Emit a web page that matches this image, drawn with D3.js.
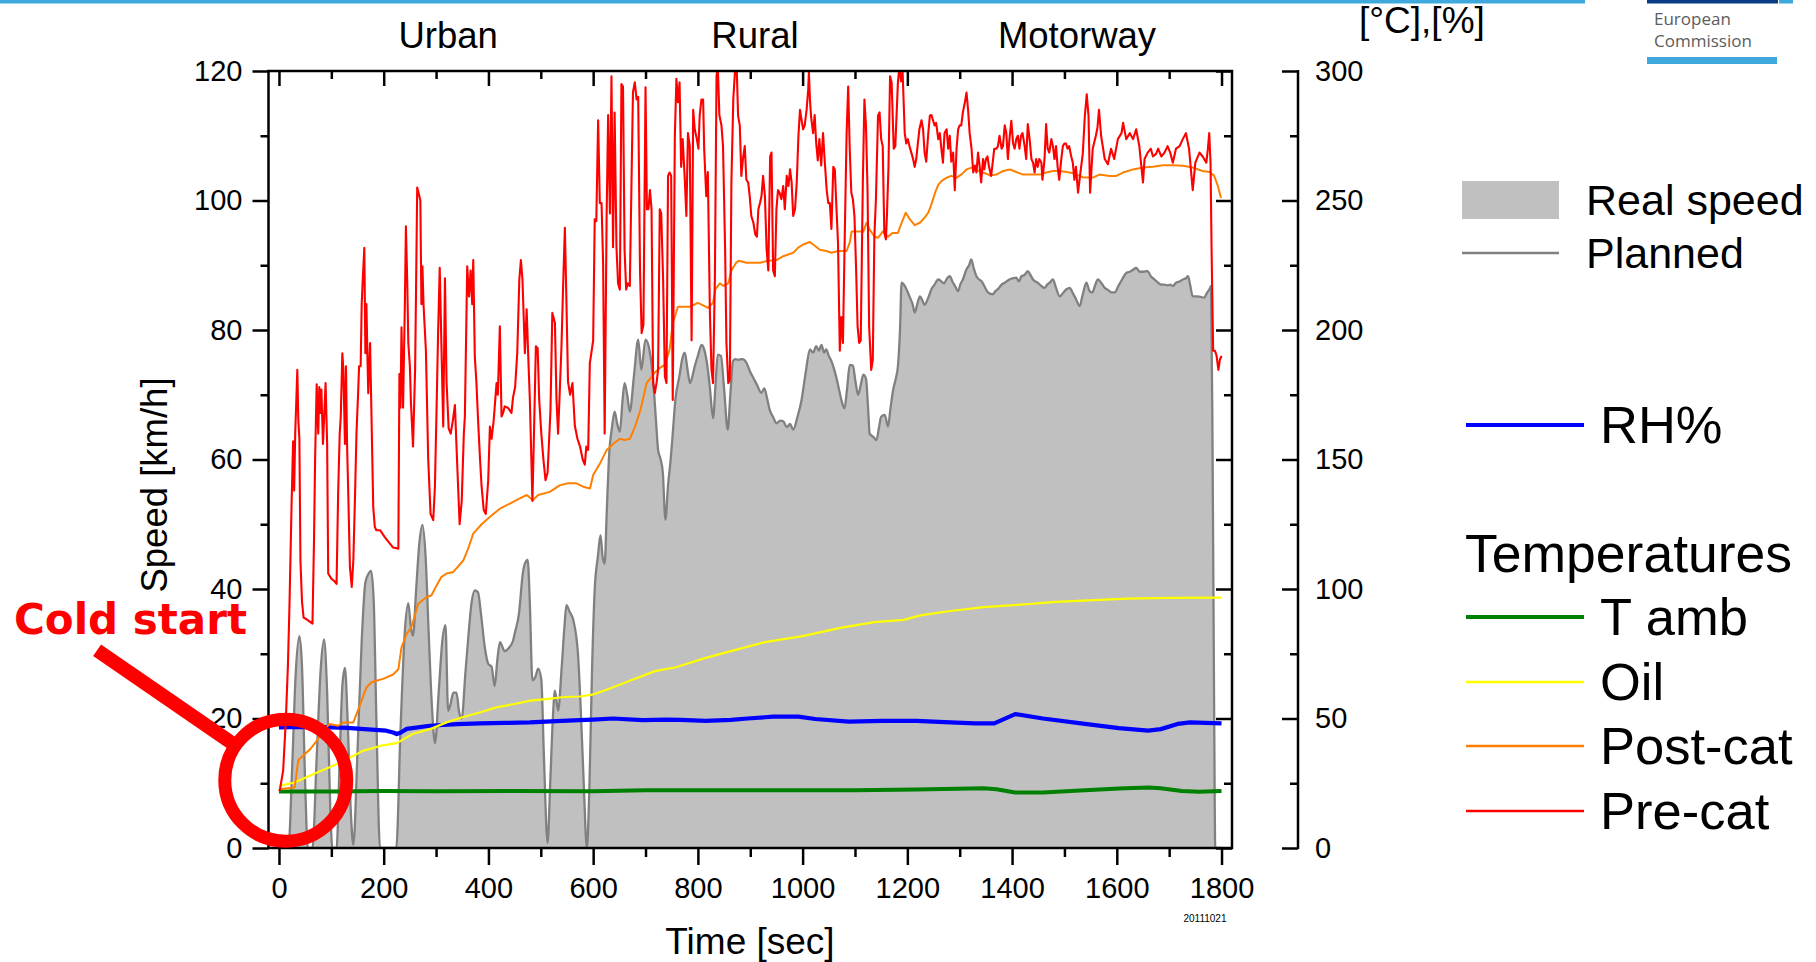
<!DOCTYPE html>
<html>
<head>
<meta charset="utf-8">
<script src="https://cdn.jsdelivr.net/npm/d3@7"></script>
<style>
  body { margin: 0; background: #fff; }
  svg { display: block; font-family: "Liberation Sans", Arial, Helvetica, sans-serif; }
</style>
</head>
<body>
<svg id="chart" width="1816" height="962"></svg>
<script>
// ---- Test-cycle data: [time s, value] ----
const speedKmh = [
  [0,0],[18,0],[25,12],[32,27],[39,32.7],[44,28],[50,10],[55,0],[64,0],[72,14],[80,28],[86,32.2],[92,24],[98,6],[102,0],[110,0],
  [116,14],[121,25],[126,27.8],[131,20],[137,6],[142,0.5],[150,15],[158,32],[165,41],[172,42.5],[176,42.8],[181,38],[186,20],[193,0],
  [224,0],[232,18],[240,33],[247,37.8],[252,34],[256,32.8],[262,40],[268,47],[274,49.9],[280,45],[286,33],[292,22],[298,16.2],
  [305,24],[312,32],[318,34.4],[323,21.2],[327,22],[333,24],[339,24],[344,21],[349,20],[356,27],[362,33],[368,38],[374,39.8],
  [380,39.5],[386,36],[393,31],[400,28.4],[406,28],[412,25],[417,29],[422,31.8],[431,30.4],[440,31],[447,32],[451,33.4],[458,36],
  [466,42.6],[470,44],[475,44.5],[479,38],[484,25.9],[490,26.5],[495,27.7],[501,26],[506,14],[513,0.8],[518,10],[523,20],[527,24.3],
  [533,21.2],[540,28],[545,34],[549,37.5],[555,36.5],[562,35.2],[571,30],[576,22],[582,10],[588,0],[593,10],[598,28],[603,40],
  [609,45],[614,48.3],[618,45],[622,43.9],[626,52],[630,60],[636,65],[641,67.4],[646,65.5],[651,64.3],[656,69],[660,71.8],[665,70],
  [670,67.4],[678,73],[686,78.5],[692,73.9],[700,78.5],[708,76.7],[715,71.8],[720,66],[724,61.5],[729,60],[733,58],[738,50.7],
  [743,56],[748,60],[752,64],[757,69.2],[765,73],[770,75.5],[775,76.5],[780,74],[785,71.8],[790,73],[794,74.4],[800,76],[807,77.7],
  [812,77],[818,74.5],[823,71],[829,66.4],[834,72],[838,76.2],[844,76],[850,71],[857,64.6],[862,70],[867,75.2],[872,75.5],[877,75.4],
  [885,75.5],[893,74.9],[900,73.5],[906,72.6],[913,71.5],[921,70.3],[927,71],[932,69.5],[937,67.7],[944,66.5],[950,65.6],[957,66],
  [963,65.9],[970,65],[976,65.5],[982,64.6],[990,66.5],[998,69.2],[1006,73.5],[1014,77],[1020,76.5],[1026,77.5],[1031,76.8],
  [1036,77.7],[1041,76.5],[1045,77],[1050,76],[1055,75.2],[1060,74],[1064,72.8],[1069,71],[1074,69.2],[1080,67.9],[1085,71],
  [1090,74.6],[1096,74.5],[1101,72],[1106,70],[1111,71.5],[1116,73.1],[1121,72.5],[1125,68],[1128,64],[1135,63.5],[1141,63],
  [1146,65],[1150,66.6],[1157,66.9],[1163,65.1],[1168,68],[1173,70.8],[1178,72.5],[1182,74.4],[1186,80],[1189,87.3],[1195,86.8],
  [1200,86],[1205,85],[1210,84],[1214,82.7],[1219,84],[1224,85.2],[1229,84.5],[1233,83.9],[1240,85],[1246,86.3],[1252,87],
  [1259,87.8],[1265,87.5],[1270,87.2],[1276,88],[1281,88.3],[1286,87.5],[1291,86.8],[1297,86],[1301,87],[1306,87.8],[1313,89.4],
  [1318,90],[1322,90.9],[1327,89.5],[1332,88.3],[1337,87.8],[1342,87.5],[1347,86.8],[1354,85.8],[1363,85.5],[1368,86],[1373,86.3],
  [1380,87],[1386,87.3],[1395,87.8],[1402,88],[1408,88.1],[1413,87.5],[1418,88.3],[1424,88.5],[1430,89.1],[1435,88.5],[1440,87.8],
  [1449,87.3],[1456,86.8],[1462,86.5],[1467,87],[1472,87.3],[1478,87.8],[1484,86.5],[1491,85.2],[1498,85.8],[1504,86.3],[1510,86.5],
  [1516,85.7],[1522,84.8],[1529,83.7],[1535,85.5],[1542,87.3],[1548,86],[1553,85.8],[1559,87],[1564,87.8],[1571,87.2],[1577,86.5],
  [1583,86.2],[1590,85.8],[1596,85.8],[1603,86.8],[1610,87.8],[1618,88.8],[1625,89],[1631,89.3],[1637,89.6],[1644,89],[1650,89],
  [1659,89.1],[1665,88.3],[1672,87.8],[1679,87.3],[1685,87],[1691,87],[1697,86.9],[1702,87],[1707,86.8],[1713,87.3],[1720,87.5],
  [1726,87.8],[1732,88],[1736,88.3],[1740,87],[1745,85.2],[1752,85.2],[1760,85.1],[1767,85],[1772,85.7],[1777,86.3],[1780,86.8],
  [1783,60],[1786,20],[1788,0],[1800,0]
];

const preCatTemp = [
  [0,22],[2,22.7],[8,30],[13,49],[17,70],[20,93],[24,132],[27,157],[29,138],[31,160],[33,172],[35,184.6],[37,165],[39,158],[41,111],
  [44,95],[47,89],[55,88],[64,86.6],[67,120],[69,150],[72,179],[75,160],[77,178],[79,168],[81,177],[84,156],[86,165],[89,179.5],
  [92,156],[94,106],[100,104],[106,103],[110,102],[113,137],[116,160],[118,166.6],[121,191],[123,184.6],[126,156],[128,186],[130,156],
  [132,139.5],[135.5,108.5],[139,100.8],[142,111],[145,134],[148,160],[151,175],[153,186],[156,186],[158,210],[160,219.5],[163,231.7],
  [165,191],[167,210],[169,189],[170.5,175.6],[174,195],[176,174],[180,131.7],[183,124],[186,122.7],[193,122.7],[202,120],[218,116],
  [228,115.6],[230,183],[232,170],[234,201],[237,170],[240.5,211],[242.4,240],[245,218],[247,195],[250,186],[252,172],[256,155],
  [260,185],[264,255],[268,251.7],[270,250],[272,210],[274,224.6],[276,210],[280.6,192],[285,150],[289.5,129],[294.6,126.6],
  [297.8,139.5],[301,170],[304,200],[307,224],[310,196],[313.7,162.7],[317,220],[320,180],[324,162],[328,160],[332,165],[336,171],
  [340,150],[345,125],[349,134],[353,160],[355,166.6],[359.5,224.6],[363,213],[366,223],[369,210],[371,227],[374,189.8],[377,180],
  [380.5,164],[384,150],[387,139.5],[391,130.5],[395,129],[399.6,142],[402.8,162.7],[406,158],[410,165],[415.5,179.5],[418,175],
  [421.8,201.4],[425,166.6],[428,168],[431,170.5],[437,170],[444,168],[447,174],[451,178],[455,191],[459,219.5],[462,227],[465,219.5],
  [469.6,191],[473,208],[476,190],[479,173.7],[482,150],[484,134],[487,160],[490.6,193.7],[494,193],[497,173],[501,160],[505,150],
  [509,142],[513,145],[518.5,169],[522,206.6],[527,202.7],[530,173],[533,160],[536,175],[539.5,193.7],[543,219.5],[546,239.5],
  [549,210.5],[552,180],[556,175],[560.5,179.5],[565,163],[570,158],[575,155],[580,150],[584,148],[587,155],[590.5,153.7],
  [593.6,187],[600,196],[603,242.7],[606,242],[609.5,281],[612.7,249],[616,249],[619,226],[622,160],[625.7,244],[628.6,283],[632,245],
  [635,298],[638,232],[641,284],[644.5,232],[647.6,218],[651,215.6],[654,295],[657,294],[660,231],[663,215.6],[666,218],[670,217],
  [676,291.7],[679.5,295.6],[683,289],[686,290],[689.5,223],[692.6,198.8],[696,202],[700,293.7],[702.7,246.6],[705.5,246.6],
  [708.5,254],[711.5,246.6],[714.5,179.5],[717.7,175.6],[721,179.5],[724,184.6],[727.2,246.6],[730,245],[733.6,219.5],[737,182],
  [740,179.5],[743,259.5],[746,260.8],[749,259.5],[752,173],[756,275],[759,297],[762,288],[765,295.6],[768,263],[771,273.7],[775,258],
  [778,244],[781,276],[784.5,271],[788,196],[791,285],[794,277.5],[798,273.7],[801,270],[803.5,283],[806.8,289],[810,289],[812,270],
  [816,251.7],[819,261],[823,206],[826,184.6],[829,179.5],[832.5,220.8],[835.6,298],[838,302],[841,283],[845,279],[848,271],[852,231],
  [854.5,195],[858,179.5],[861,180.8],[864,257],[867.6,289],[870.7,299.5],[874,302],[876.8,282.7],[880,279],[883,259.5],[886,266],
  [889.5,271],[892.6,258],[896,257],[899,251.7],[902,244],[906,241.4],[909.5,237],[912.7,236],[915.5,246.6],[918.6,249],[921.5,251.7],
  [924.5,259.5],[928,251.7],[931.3,231],[934.5,223],[938,267],[940.6,268.5],[943.7,223],[947,220.8],[950,246.6],[953,254],[956,253],
  [959.5,250.5],[963,255.6],[966,246.6],[969.7,259.5],[973,255.6],[976,262],[979,257],[982,244],[985.5,246.6],[988.8,257],[992,275],
  [995,285],[998,281],[1001,277.5],[1004,279],[1007.6,285],[1010.7,293],[1012,299.5],[1014,289],[1016,282.7],[1020,276],[1023,283],
  [1026,272],[1029,265.5],[1032,273.7],[1035.5,263.5],[1039,276],[1042,266],[1046,254],[1049,249],[1052,249],[1055,239],[1058.6,263],
  [1061.5,262],[1064,250],[1067.6,233.7],[1071,192],[1074,205],[1077,195],[1080,231],[1084,276],[1087,294],[1090,270],[1093,253],
  [1096,250.5],[1099,244],[1102,224.6],[1105,201.4],[1108,195],[1111,196],[1115,257],[1118,289],[1121,279],[1124,254],[1127,201.4],
  [1131,184.6],[1134,188.5],[1137,236],[1140,250.5],[1144,282.7],[1147,284],[1150,273.7],[1153,271],[1156,237.5],[1159,235],[1161,244],
  [1164,263],[1167,298],[1170,295.6],[1174,270],[1177,271],[1182,295.6],[1185,302],[1188,296],[1191,299.5],[1195,276],[1198,272],
  [1201,273.7],[1204,271],[1207.6,268.5],[1211,266],[1214,263],[1217,266],[1220,272],[1223,277.5],[1227,281],[1230,277.5],
  [1233,268.5],[1236,265],[1240,276],[1243,282.7],[1246,283],[1249,281],[1252,279],[1255,280],[1259,273.7],[1262,276],[1265,270],
  [1268,264.6],[1271,276],[1275,277.5],[1278,270],[1281,275],[1284,265],[1287.5,268.5],[1290.6,254],[1294,270],[1297,277.5],[1300,279],
  [1303,279],[1306,284],[1310,288],[1313,291.7],[1316,285],[1319,276],[1322.6,270],[1325.8,260.8],[1329,263.5],[1332,260.8],
  [1335,268.5],[1338,263.5],[1341,257],[1344.5,266],[1347,262],[1350,266],[1353,267],[1356,263],[1360,259.5],[1363,264.6],[1366,270],
  [1370,270],[1373,271],[1376,275],[1380,270],[1382.6,271],[1386,279],[1389,276],[1392,266],[1395,273.7],[1398.6,280.8],[1402,272],
  [1405,270],[1408,273.7],[1411,275],[1414,270],[1417,275],[1420,276],[1424,271],[1427,266],[1430,279.5],[1433.5,273.7],[1437,266],
  [1440,264.6],[1443,260.8],[1446,266],[1449,263],[1452,266],[1456,264.6],[1458,258],[1462,266],[1465,279.5],[1468,270],[1471,268.5],
  [1475,273.7],[1478,271],[1481,266],[1484,271],[1487,263],[1490,258],[1494,266],[1497,271],[1500,272],[1503,272],[1506,270],
  [1509,271],[1513,267],[1516,264.6],[1519,258],[1522,263],[1526,253],[1530,260],[1535,268],[1539,282.7],[1542.6,291],[1546,282.7],
  [1549,253],[1554,270],[1560,275],[1563,278],[1566,285],[1570,275],[1577,266],[1583,264],[1589,270],[1595,266],[1602,273.7],
  [1609,276],[1612,280],[1618,273.7],[1625,276],[1631,273.7],[1637,277.5],[1643,271],[1650,257],[1653,266],[1659,268.5],[1665,270],
  [1669,267],[1675,268],[1679,270],[1685,267],[1691,268.5],[1697,271],[1702,268.5],[1707,264.6],[1713,270],[1720,271],[1726,273.7],
  [1732,276],[1738,270],[1745,254],[1750,264.6],[1758,268.5],[1764,267],[1771,264.6],[1774,270],[1776.5,276],[1779,264.6],[1781,231],
  [1784,192],[1787.5,192],[1790.6,190],[1794,184.6],[1796.8,188.5],[1800,190]
];

const postCatTemp = [
  [0,22.7],[30,23.4],[33,28],[37,34],[46,35.6],[59,38],[72,41.4],[85,45.3],[97,47.9],[113,47.2],[123,48.5],[142,48.5],[148,51.7],
  [158,57],[167,62],[177,64],[186,64.6],[199,65.3],[218,67],[228,69],[234,77.5],[244,82.7],[253,85.3],[266,94.3],[282,96.9],
  [291,97.5],[300,101],[310,104.6],[320,106],[333,106.6],[352,111],[362,116],[371,121.4],[387,125],[403,127.9],[422,131],[441,133],
  [460,135],[473,136.3],[485,134.3],[495,136.3],[517,137.5],[536,140],[552,140.8],[568,140.8],[581,139.5],[594,138.8],[600,144],
  [613,148.5],[626,153.7],[638,156],[651,158],[660,157.5],[670,158],[680,162.7],[690,169],[696,174],[702,179.5],[708,181],[715,183],
  [727,185.3],[737,186.6],[746,192.4],[752,202.7],[762,209],[771,209],[785,209],[800,210.5],[810,209.5],[819,208.5],[829,210.5],
  [833,215.6],[842,218],[849,217],[858,218],[864,223],[873,226],[878,226.7],[893,226],[906,226],[919,226],[931,226.6],[950,227],
  [963,228.5],[982,229.8],[991,231.7],[1001,233],[1014,234],[1020,233],[1033,231],[1045,230.5],[1055,229.8],[1068,230.5],[1084,230.5],
  [1090,233.7],[1093.5,238],[1103,238],[1116,238],[1122,241.4],[1128,238.8],[1137.5,236],[1144,235.6],[1153,238],[1163,236],
  [1172,237.5],[1182,237.5],[1189,241.4],[1197,245.3],[1205,242.7],[1214,240.5],[1224,241.4],[1233,243.4],[1240,245.3],[1246,248.5],
  [1253,253],[1259,256],[1265,257.5],[1275,258.8],[1284,259.5],[1294,258.8],[1303,260],[1313,262],[1323,262.7],[1332,261.8],
  [1345,260.8],[1358,259.7],[1370,260],[1383,261.4],[1396,262],[1408,261],[1421,260],[1434,260],[1453,260],[1465,260.8],[1478,261.4],
  [1491,261.4],[1504,261],[1517,260.5],[1535,259],[1554,258.8],[1567,260],[1586,259.5],[1599,259.5],[1612,260.8],[1631,262],
  [1650,262.7],[1669,263],[1688,263.6],[1707,263.6],[1726,263.4],[1745,262.7],[1764,261.4],[1777,261],[1786,259.5],[1793,255.6],
  [1799,251]
];

const oilTemp = [
  [0,24],[30,25.3],[65,28.5],[100,31.5],[130,34.3],[160,37.5],[195,39.5],[225,40.5],[255,44],[290,46],[320,48.5],[350,50.5],
  [385,52.4],[415,54.3],[450,55.6],[480,56.9],[510,57.5],[545,58.3],[575,58.5],[598,59.2],[622,60.8],[670,64.6],[718,68.3],
  [758,69.8],[815,73.4],[863,76],[928,79.5],[1000,81.8],[1072,85],[1137,87.2],[1193,88.1],[1225,89.8],[1282,91.5],[1346,93],
  [1418,94],[1483,95],[1547,95.6],[1620,96.3],[1700,96.6],[1800,96.7]
];

const ambientTemp = [
  [0,21.8],[100,21.8],[193,22],[300,21.9],[450,22],[600,21.9],[700,22.3],[900,22.3],[1100,22.3],[1217,22.6],[1346,23.1],
  [1370,22.7],[1406,21.4],[1459,21.4],[1539,22.3],[1604,23],[1660,23.4],[1684,23.1],[1724,22],[1757,21.7],[1800,22]
];

const relHumidity = [
  [0,46.6],[50,46.8],[100,46.6],[130,46.4],[170,45.8],[205,45.3],[218,44.6],[225,44],[232,44.5],[244,46],[288,47.2],[340,47.8],
  [384,48.1],[430,48.3],[479,48.5],[530,49],[574,49.4],[600,49.6],[638,50],[694,49.4],[740,49.6],[767,49.5],[815,49.1],[863,49.5],
  [895,50],[944,50.7],[992,50.7],[1024,49.8],[1088,48.8],[1153,49.1],[1217,49.1],[1282,48.5],[1330,48.1],[1366,48.1],[1406,51.7],
  [1459,50],[1539,47.9],[1604,46.3],[1660,45.3],[1684,45.9],[1716,47.9],[1740,48.5],[1800,48.1]
];

// ---- Axis ticks and labels ----
const speedTicks = [0, 20, 40, 60, 80, 100, 120];
const speedMinorTicks = [10, 30, 50, 70, 90, 110];
const tempTicks = [0, 50, 100, 150, 200, 250, 300];
const tempMinorTicks = [25, 75, 125, 175, 225, 275];
const timeTicks = [0, 200, 400, 600, 800, 1000, 1200, 1400, 1600, 1800];
const timeMinorTicks = [100, 300, 500, 700, 900, 1100, 1300, 1500, 1700];
const phaseNames = ["Urban", "Rural", "Motorway"];
const phaseCentres = [323, 909, 1524];   // seconds

// ---- Layout ----
const frame = { left: 268.5, right: 1232, top: 71, bottom: 848 };
const tempAxisX = 1298;
const FONT = '"Liberation Sans", Arial, Helvetica, sans-serif';

const x = d3.scaleLinear().domain([-20, 1820]).range([frame.left, frame.right]);
const ySpeed = d3.scaleLinear().domain([0, 120]).range([frame.bottom, frame.top]);
const yTemp = d3.scaleLinear().domain([0, 300]).range([frame.bottom, frame.top]);

const svg = d3.select("#chart");
svg.append("rect").attr("width", 1816).attr("height", 962).attr("fill", "#fff");

// ---- Header band and logo ----
svg.append("rect").attr("x", 0).attr("y", 0).attr("width", 1585).attr("height", 3.5).attr("fill", "#3fa9de");
svg.append("rect").attr("x", 1647).attr("y", 0).attr("width", 131).attr("height", 3.5).attr("fill", "#0b3a86");
svg.append("rect").attr("x", 1779).attr("y", 0).attr("width", 14).attr("height", 3.5).attr("fill", "#3fa9de");
const logo = svg.append("g").attr("font-family", '"Open Sans", "Noto Sans", sans-serif')
  .attr("font-size", 17).attr("fill", "#5c5c5c");
logo.append("text").attr("x", 1654).attr("y", 25).text("European");
logo.append("text").attr("x", 1654).attr("y", 47).text("Commission");
svg.append("rect").attr("x", 1647).attr("y", 57).attr("width", 130).attr("height", 7).attr("fill", "#3fa9de");

// ---- Plot area ----
svg.append("defs").append("clipPath").attr("id", "plotClip").append("rect")
  .attr("x", frame.left).attr("y", frame.top)
  .attr("width", frame.right - frame.left).attr("height", frame.bottom - frame.top);
const plot = svg.append("g").attr("clip-path", "url(#plotClip)");

plot.append("path").datum(speedKmh)
  .attr("fill", "#c0c0c0")
  .attr("d", d3.area().x(d => x(d[0])).y0(ySpeed(0)).y1(d => ySpeed(d[1])).curve(d3.curveMonotoneX));
plot.append("path").datum(speedKmh)
  .attr("fill", "none").attr("stroke", "#808080").attr("stroke-width", 2.3).attr("stroke-linejoin", "round")
  .attr("d", d3.line().x(d => x(d[0])).y(d => ySpeed(d[1])).curve(d3.curveMonotoneX));

const tempLine = d3.line().x(d => x(d[0])).y(d => yTemp(d[1]));
const tempSeries = [
  { data: ambientTemp, color: "#008000", width: 4 },
  { data: relHumidity, color: "#0000ff", width: 4.2 },
  { data: oilTemp, color: "#ffff00", width: 2.2 },
  { data: postCatTemp, color: "#ff8000", width: 2 },
  { data: preCatTemp, color: "#ff0000", width: 2.1 }
];
tempSeries.forEach(s => {
  plot.append("path").datum(s.data)
    .attr("fill", "none").attr("stroke", s.color).attr("stroke-width", s.width)
    .attr("stroke-linejoin", "round").attr("d", tempLine);
});

// ---- Axes ----
function styleAxis(g) {
  g.attr("font-family", FONT).attr("font-size", 29);
  g.selectAll(".tick line").attr("stroke", "#000").attr("stroke-width", 2.5);
  g.selectAll(".tick text").attr("fill", "#000");
  g.select(".domain").remove();
  return g;
}
function axisGroup(tx, ty, axis) {
  return styleAxis(svg.append("g").attr("transform", `translate(${tx},${ty})`).call(axis));
}

// left speed axis, ticks outward
axisGroup(frame.left, 0, d3.axisLeft(ySpeed).tickValues(speedTicks).tickSize(16).tickPadding(10));
axisGroup(frame.left, 0, d3.axisLeft(ySpeed).tickValues(speedMinorTicks).tickSize(8).tickFormat(""));
// right side of frame, ticks inward
axisGroup(frame.right, 0, d3.axisRight(ySpeed).tickValues(speedTicks).tickSize(-16).tickFormat(""));
axisGroup(frame.right, 0, d3.axisRight(ySpeed).tickValues(speedMinorTicks).tickSize(-8).tickFormat(""));
// bottom time axis, ticks outward
const bottom = axisGroup(0, frame.bottom, d3.axisBottom(x).tickValues(timeTicks).tickSize(17).tickFormat(d3.format("d")));
bottom.selectAll(".tick text").attr("y", 50).attr("dy", null);
axisGroup(0, frame.bottom, d3.axisBottom(x).tickValues(timeMinorTicks).tickSize(9).tickFormat(""));
// top of frame, ticks inward
axisGroup(0, frame.top, d3.axisTop(x).tickValues(timeTicks).tickSize(-15).tickFormat(""));
axisGroup(0, frame.top, d3.axisTop(x).tickValues(timeMinorTicks).tickSize(-8).tickFormat(""));

// separate temperature / RH axis
const tAxis = axisGroup(tempAxisX, 0, d3.axisLeft(yTemp).tickValues(tempTicks).tickSize(16).tickFormat(d3.format("d")));
tAxis.selectAll(".tick text").attr("x", 17).attr("text-anchor", "start");
axisGroup(tempAxisX, 0, d3.axisLeft(yTemp).tickValues(tempMinorTicks).tickSize(8).tickFormat(""));
svg.append("line").attr("x1", tempAxisX).attr("x2", tempAxisX)
  .attr("y1", frame.top - 1).attr("y2", frame.bottom + 1).attr("stroke", "#000").attr("stroke-width", 2.5);

// frame
svg.append("rect").attr("x", frame.left).attr("y", frame.top)
  .attr("width", frame.right - frame.left).attr("height", frame.bottom - frame.top)
  .attr("fill", "none").attr("stroke", "#000").attr("stroke-width", 2.5);

// ---- Titles ----
const titles = svg.append("g").attr("font-family", FONT).attr("fill", "#000");
titles.append("text").attr("x", 750).attr("y", 954).attr("text-anchor", "middle")
  .attr("font-size", 37).text("Time [sec]");
titles.append("text").attr("transform", "translate(167,485) rotate(-90)").attr("text-anchor", "middle")
  .attr("font-size", 36.5).text("Speed [km/h]");
titles.append("text").attr("x", 1359).attr("y", 33).attr("font-size", 37).text("[°C],[%]");
titles.selectAll(null).data(phaseNames).enter().append("text")
  .attr("x", (d, i) => x(phaseCentres[i])).attr("y", 48)
  .attr("text-anchor", "middle").attr("font-size", 36.5).text(d => d);
titles.append("text").attr("x", 1205).attr("y", 922).attr("text-anchor", "middle")
  .attr("font-size", 10).text("20111021");

// ---- Legend ----
const legend = svg.append("g").attr("font-family", FONT).attr("fill", "#000");
legend.append("rect").attr("x", 1462).attr("y", 181).attr("width", 97).attr("height", 38).attr("fill", "#c0c0c0");
legend.append("text").attr("x", 1586).attr("y", 215).attr("font-size", 43).text("Real speed");
legend.append("line").attr("x1", 1462).attr("x2", 1559).attr("y1", 253).attr("y2", 253)
  .attr("stroke", "#808080").attr("stroke-width", 2.3);
legend.append("text").attr("x", 1586).attr("y", 268).attr("font-size", 43).text("Planned");

legend.append("line").attr("x1", 1466).attr("x2", 1584).attr("y1", 425).attr("y2", 425)
  .attr("stroke", "#0000ff").attr("stroke-width", 4);
legend.append("text").attr("x", 1600).attr("y", 443).attr("font-size", 52.5).text("RH%");

legend.append("text").attr("x", 1465).attr("y", 572).attr("font-size", 53.5).text("Temperatures");
const tempLegend = [
  { name: "T amb", color: "#008000", width: 4, y: 617 },
  { name: "Oil", color: "#ffff00", width: 2.5, y: 682 },
  { name: "Post-cat", color: "#ff8000", width: 2.5, y: 746 },
  { name: "Pre-cat", color: "#ff0000", width: 2.5, y: 811 }
];
tempLegend.forEach(d => {
  legend.append("line").attr("x1", 1466).attr("x2", 1584).attr("y1", d.y).attr("y2", d.y)
    .attr("stroke", d.color).attr("stroke-width", d.width);
  legend.append("text").attr("x", 1600).attr("y", d.y + 18).attr("font-size", 52.5).text(d.name);
});

// ---- Cold start annotation ----
const note = svg.append("g");
const ringX = x(13), ringY = yTemp(26.2), ringR = 61;
const ux = 0.824, uy = 0.567;
note.append("line")
  .attr("x1", ringX - 229 * ux).attr("y1", ringY - 229 * uy)
  .attr("x2", ringX - ringR * ux).attr("y2", ringY - ringR * uy)
  .attr("stroke", "#ff0000").attr("stroke-width", 14);
note.append("circle").attr("cx", ringX).attr("cy", ringY).attr("r", ringR)
  .attr("fill", "none").attr("stroke", "#ff0000").attr("stroke-width", 13);
note.append("text").attr("x", 14).attr("y", 634)
  .attr("font-family", '"DejaVu Sans", Verdana, sans-serif').attr("font-weight", "bold")
  .attr("font-size", 42).attr("fill", "#ff0000").text("Cold start");
</script>
</body>
</html>
